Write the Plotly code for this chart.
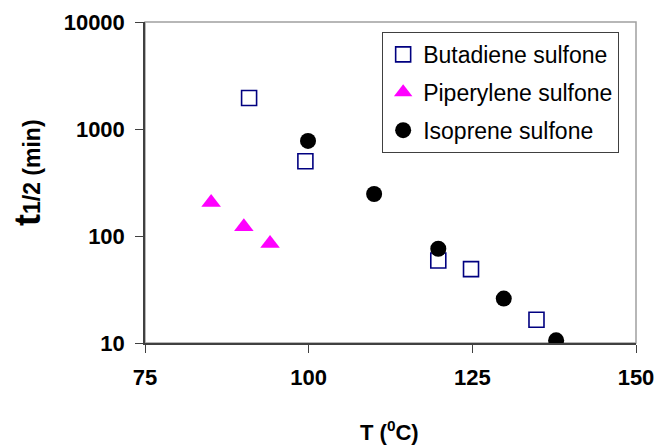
import plotly.graph_objects as go

but_T = [90.9, 99.5, 119.8, 124.8, 134.8]
but_t = [1950, 500, 59, 49, 16.5]
pip_T = [85.1, 90.1, 94.1]
pip_t = [206, 122, 85]
iso_T = [99.9, 110.0, 119.8, 129.8, 137.8]
iso_t = [774, 247, 76, 26, 10.6]

x_ticks = [75, 100, 125, 150]
y_ticks = [10, 100, 1000, 10000]

FONT = "Liberation Sans, Arial"

fig = go.Figure()
fig.add_trace(go.Scatter(x=but_T, y=but_t, mode="markers", name="Butadiene sulfone",
                         legendgroup="a",
                         marker=dict(symbol="square-open", size=15, color="#000080",
                                     line=dict(width=1.6, color="#000080"))))
fig.add_trace(go.Scatter(x=pip_T, y=pip_t, mode="markers", name="Piperylene sulfone",
                         legendgroup="b",
                         marker=dict(symbol="triangle-up", size=17, color="#FF00FF")))
fig.add_trace(go.Scatter(x=iso_T, y=iso_t, mode="markers", name="Isoprene sulfone",
                         legendgroup="c",
                         marker=dict(symbol="circle", size=16, color="#000000")))

fig.add_shape(type="rect", xref="x domain", yref="y domain", x0=0, x1=1, y0=0, y1=1,
              line=dict(color="#a0a0a0", width=1.5), layer="below")

tickfont = dict(family=FONT, size=22, color="#000000", weight="bold")

fig.update_layout(
    width=658, height=447,
    margin=dict(l=145, r=22, t=22, b=104, autoexpand=False),
    paper_bgcolor="white", plot_bgcolor="white",
    font=dict(family=FONT, color="#000000"),
    showlegend=True,
    legend=dict(x=0.483, y=0.969, xanchor="left", yanchor="top",
                bgcolor="white", bordercolor="#404040", borderwidth=1,
                font=dict(family=FONT, size=23, color="#000000"),
                tracegroupgap=5, traceorder="grouped",
                itemwidth=30),
    xaxis=dict(range=[75, 150], tickvals=x_ticks, ticktext=[str(v) for v in x_ticks],
               showgrid=False, zeroline=False, showline=True, linecolor="#404040",
               linewidth=1.5, ticks="outside", ticklen=8, tickcolor="#404040",
               tickfont=tickfont, ticklabelstandoff=6, automargin=False),
    yaxis=dict(type="log", range=[1, 4], tickvals=y_ticks,
               ticktext=[str(v) for v in y_ticks],
               showgrid=False, zeroline=False, showline=True, linecolor="#404040",
               linewidth=1.5, ticks="outside", ticklen=8, tickcolor="#404040",
               tickfont=tickfont, ticklabelstandoff=6, automargin=False),
)

fig.add_annotation(xref="paper", yref="paper", x=0.498, y=-0.225, yanchor="top",
                   text="<b>T (<sup>0</sup>C)</b>", showarrow=False,
                   font=dict(family=FONT, size=22, color="#000000"))
fig.add_annotation(xref="paper", yref="paper", x=-0.238, y=0.53, xanchor="center",
                   yanchor="middle", textangle=-90,
                   text="<b><span style='font-size:36px'>t</span>1/2 (min)</b>",
                   showarrow=False,
                   font=dict(family=FONT, size=23, color="#000000"))

fig.write_html("out.html",
               config={"displayModeBar": False},
               post_script="document.body.style.margin='0';document.body.style.overflow='hidden';")
